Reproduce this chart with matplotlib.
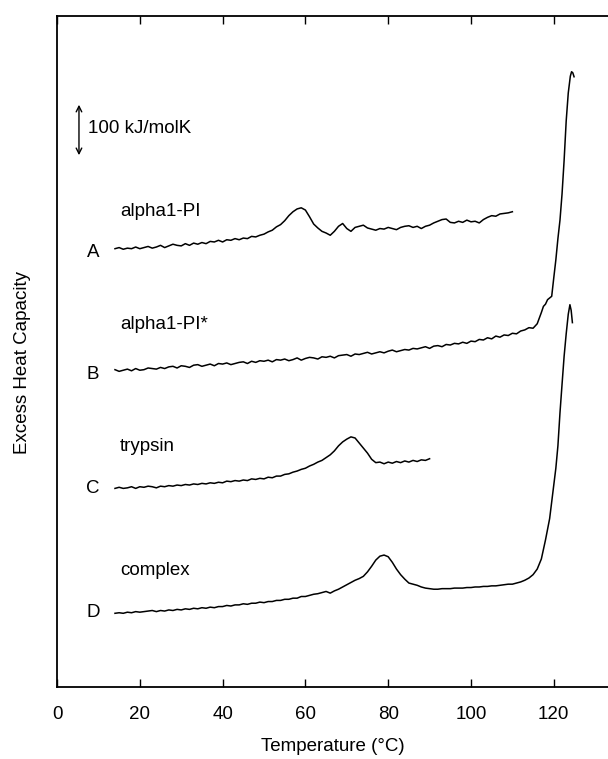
import numpy as np
import matplotlib
matplotlib.use("Agg")
import matplotlib.pyplot as plt

plt.rcParams['font.family'] = ['Liberation Sans', 'DejaVu Sans']

# temperatures (deg C) and excess heat capacity (kJ/molK, traces stacked as in figure)
temp_a = np.arange(14, 111)
cp_a = [782, 784, 781, 783, 782, 785, 782, 784, 786, 783,
        785, 788, 784, 787, 790, 788, 787, 791, 788, 792,
        790, 793, 791, 795, 794, 797, 794, 798, 797, 800,
        798, 801, 800, 804, 803, 806, 808, 812, 815, 821,
        825, 832, 841, 848, 853, 855, 851, 839, 826, 819,
        813, 810, 806, 813, 822, 827, 818, 813, 820, 822,
        824, 819, 817, 815, 818, 817, 820, 818, 816, 820,
        822, 823, 820, 822, 818, 822, 824, 828, 831, 834,
        835, 829, 828, 831, 829, 833, 830, 831, 828, 834,
        838, 841, 840, 844, 845, 846, 848]

temp_b = list(range(14, 117)) + [117, 117.5, 118, 118.5, 119, 119.5, 120, 120.5, 121,
                                 121.5, 122, 122.5, 123, 123.5, 124, 124.3, 124.6, 124.9]
cp_b = [566, 563, 565, 567, 564, 568, 565, 566, 569, 568,
        567, 570, 568, 571, 572, 569, 573, 572, 570, 574,
        575, 572, 574, 576, 573, 577, 576, 578, 575, 577,
        579, 580, 577, 581, 579, 582, 581, 583, 580, 584,
        583, 585, 582, 584, 587, 583, 586, 588, 587, 585,
        589, 588, 590, 587, 591, 592, 593, 590, 594, 593,
        595, 597, 594, 596, 598, 596, 599, 601, 598, 600,
        602, 601, 604, 603, 605, 607, 604, 608, 609, 607,
        611, 610, 613, 612, 615, 613, 617, 616, 620, 619,
        623, 621, 626, 624, 628, 627, 631, 630, 635, 637,
        641, 640, 648,
        668, 679, 683, 691, 694, 697, 730, 762, 800,
        833, 880, 940, 1010, 1060, 1090, 1098, 1096, 1089]

temp_c = np.arange(14, 91)
cp_c = [354, 356, 354, 355, 357, 354, 357, 356, 358, 357,
        355, 358, 357, 359, 358, 360, 359, 361, 360, 362,
        361, 363, 362, 364, 363, 365, 364, 367, 366, 368,
        367, 369, 368, 371, 370, 372, 371, 374, 373, 376,
        376, 379, 380, 383, 385, 388, 390, 394, 397, 401,
        404, 409, 414, 421, 430, 437, 442, 446, 444, 435,
        426, 417, 406, 400, 401, 398, 401, 399, 402, 400,
        403, 401, 404, 402, 405, 404, 407]

temp_d = list(range(14, 119)) + [119, 119.5, 120, 120.5, 121, 121.5, 122, 122.5,
                                 123, 123.5, 123.9, 124.2, 124.5]
cp_d = [131, 132, 131, 133, 132, 134, 133, 134, 135, 136,
        134, 136, 135, 137, 136, 138, 137, 139, 138, 140,
        139, 141, 140, 142, 141, 143, 143, 145, 144, 146,
        146, 148, 147, 149, 149, 151, 150, 152, 152, 154,
        154, 156, 156, 158, 158, 161, 161, 163, 165, 166,
        168, 170, 167, 171, 174, 178, 182, 186, 190, 193,
        197, 205, 215, 226, 233, 235, 232, 222, 210, 200,
        192, 185, 183, 181, 178, 176, 175, 174, 174, 175,
        175, 175, 176, 176, 176, 177, 177, 178, 178, 179,
        179, 180, 180, 181, 182, 183, 183, 185, 187, 190,
        194, 200, 210, 228, 262,
        300, 330, 360, 390, 430, 489, 540, 590, 630, 665, 682, 672, 650]

letters = ['A', 'B', 'C', 'D']
names = ['alpha1-PI', 'alpha1-PI*', 'trypsin', 'complex']
letter_y = [775, 558, 353, 132]
name_y = [848, 646, 429, 207]
xticks = [0, 20, 40, 60, 80, 100, 120]

fig = plt.figure(figsize=(6.08, 7.59), dpi=100)
ax = fig.add_axes([0.0938, 0.0953, 0.9062, 0.884])

for t, c in [(temp_a, cp_a), (temp_b, cp_b), (temp_c, cp_c), (temp_d, cp_d)]:
    ax.plot(t, c, color='black', lw=1.1)

for lab, y in zip(letters, letter_y):
    ax.text(8.7, y, lab, fontsize=13.5, ha='center', va='center')
for lab, y in zip(names, name_y):
    ax.text(15.2, y, lab, fontsize=13.5, ha='left', va='center')

# scale bar
ax.annotate('', xy=(5.3, 1044), xytext=(5.3, 944),
            arrowprops=dict(arrowstyle='<->', color='black', lw=1.0))
ax.text(7.5, 996, '100 kJ/molK', fontsize=13.5, ha='left', va='center')

ax.set_xlim(0, 133.1)
ax.set_ylim(0, 1198)
ax.set_xticks(xticks)
ax.set_yticks([])
ax.tick_params(axis='x', direction='in', top=True, length=6, width=1,
               labelsize=13.5, pad=14)
ax.spines['right'].set_visible(False)
for s in ['left', 'top', 'bottom']:
    ax.spines[s].set_linewidth(1.3)
ax.set_xlabel('Temperature (°C)', fontsize=13.5, labelpad=11)
fig.text(23 / 608, 1 - 363 / 759, 'Excess Heat Capacity', rotation=90,
         fontsize=13.5, ha='center', va='center')

fig.savefig('out.png', dpi=100)
